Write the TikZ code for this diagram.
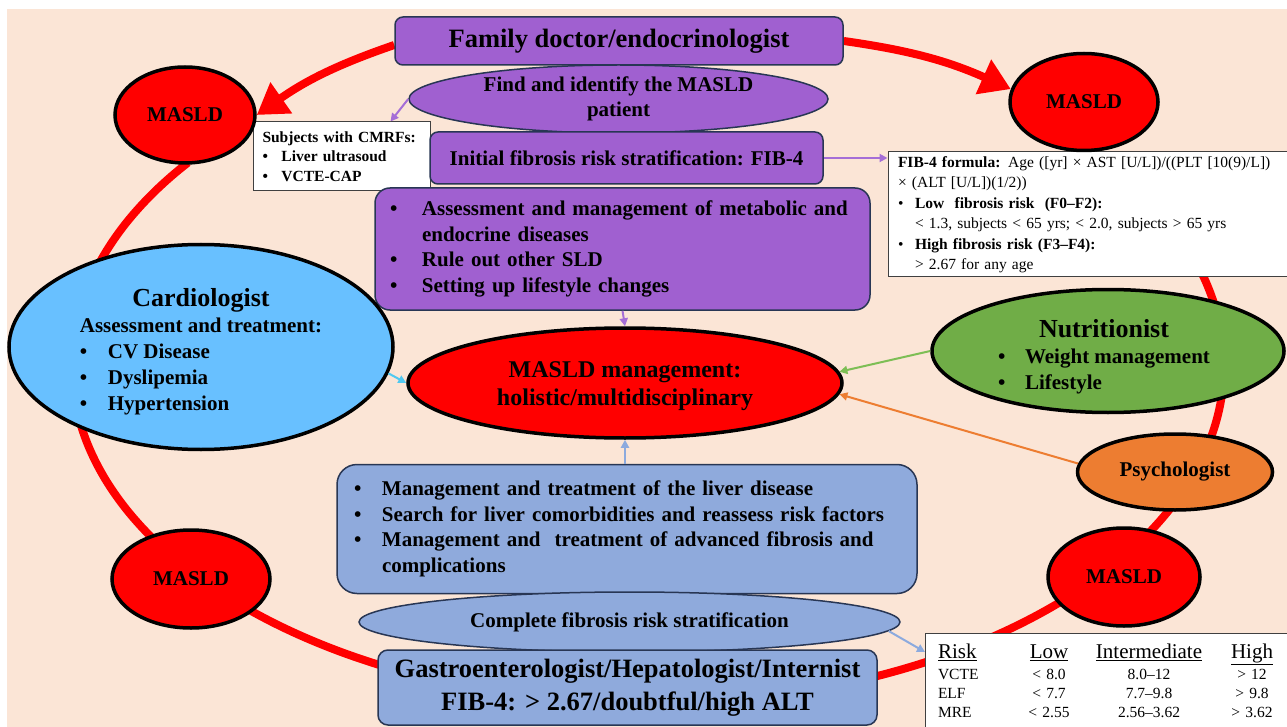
\documentclass[tikz,border=0pt]{standalone}
\usepackage{fontspec}
\setmainfont{Liberation Serif}
\usetikzlibrary{shapes.geometric,arrows.meta}
\pgfdeclarelayer{back}
\pgfsetlayers{back,main}
\definecolor{bgc}{RGB}{251,229,214}
\definecolor{ringred}{RGB}{255,0,0}
\definecolor{purp}{RGB}{160,96,208}
\definecolor{navy}{RGB}{40,54,84}
\definecolor{bluef}{RGB}{143,170,220}
\definecolor{cardc}{RGB}{104,192,255}
\definecolor{nutc}{RGB}{112,173,71}
\definecolor{psyc}{RGB}{237,125,49}
\definecolor{parr}{RGB}{165,110,215}
\definecolor{carr}{RGB}{80,200,240}
\definecolor{garr}{RGB}{125,190,85}
\definecolor{barr}{RGB}{140,170,222}
\newcommand\setfs[2]{\fontsize{#1}{#2}\selectfont}
\newcommand\mybul[1]{\makebox[#1][l]{\textbullet}}
\newcommand\lowerby[2]{\raisebox{-#1}[\height][\depth]{#2}}
\begin{document}
\begin{tikzpicture}[x=1pt,y=-1pt,
  ring/.style={draw=ringred, line width=8pt},
  bigtip/.style={-{Triangle[length=30pt,width=36pt]}},
  pbox/.style={draw=navy, line width=1.5pt, fill=purp, rounded corners=8pt, inner sep=0pt},
  bbox/.style={draw=navy, line width=1.5pt, fill=bluef, rounded corners=10pt, inner sep=0pt},
  pell/.style={ellipse, draw=navy, line width=1.5pt, fill=purp, inner sep=0pt},
  bell/.style={ellipse, draw=navy, line width=1.5pt, fill=bluef, inner sep=0pt},
  oval/.style={ellipse, draw=black, line width=3.5pt, inner sep=0pt},
  masld/.style={oval, fill=ringred, font=\bfseries\setfs{21}{24}},
  wbox/.style={draw=black!75, line width=1pt, fill=white, inner sep=0pt},
  conn/.style={line width=2pt, -{Triangle[length=8pt,width=8pt]}}
]
\useasboundingbox (0,0) rectangle (1287,727);

% nodes
\node[pbox, minimum width=448pt, minimum height=48pt, font=\bfseries\setfs{26.5}{30}] (fd) at (619,41) {Family doctor/endocrinologist};
\node[pell, minimum width=419pt, minimum height=68pt, align=center, font=\bfseries\setfs{21}{25}] (find) at (618.5,99) {Find and identify the MASLD\\patient};
\node[wbox, minimum width=177pt, minimum height=69pt, text width=158pt, align=left, font=\bfseries\setfs{15.5}{19.5}] (cmrf) at (341.5,156.5) {Subjects with CMRFs:\\\mybul{19pt}Liver ultrasoud\\\mybul{19pt}VCTE-CAP};
\node[pbox, minimum width=393pt, minimum height=52pt, font=\bfseries\setfs{21}{25}] (init) at (626.5,158) {Initial fibrosis risk stratification: FIB-4};
\node[pbox, rounded corners=15pt, minimum width=495pt, minimum height=122pt, text width=465pt, align=left, font=\bfseries\setfs{21}{25.5}] (meta) at (622.5,249) {\mybul{32pt}Assessment and management of metabolic and\\\hspace*{32pt}endocrine diseases\\\mybul{32pt}Rule out other SLD\\\mybul{32pt}Setting up lifestyle changes};
\node[wbox, minimum width=400pt, minimum height=125pt, text width=380pt, align=left, font=\setfs{15.5}{20.5}] (fib) at (1088,214.5) {\textbf{FIB-4 formula:} Age ([yr] × AST [U/L])/((PLT [10(9)/L])\\× (ALT [U/L])(1/2))\\\mybul{17pt}\textbf{Low\ \ fibrosis risk\ \ (F0–F2):}\\\hspace*{17pt}< 1.3, subjects < 65 yrs; < 2.0, subjects > 65 yrs\\\mybul{17pt}\textbf{High fibrosis risk (F3–F4):}\\\hspace*{17pt}> 2.67 for any age};

\node[masld, minimum width=140pt, minimum height=96pt] (m1) at (185,115) {MASLD};
\node[masld, minimum width=148pt, minimum height=97pt] (m2) at (1084,102) {MASLD};
\node[masld, minimum width=158pt, minimum height=98pt] (m3) at (191,579) {MASLD};
\node[masld, minimum width=152pt, minimum height=98pt] (m4) at (1124,577) {MASLD};

\node[oval, fill=ringred, minimum width=434pt, minimum height=110pt, font=\bfseries\setfs{24}{28}] (mgmt) at (625,383) {\lowerby{3pt}{\begin{tabular}{@{}c@{}}MASLD management:\\holistic/multidisciplinary\end{tabular}}};

\node[oval, fill=cardc, minimum width=384pt, minimum height=205pt, font=\bfseries\setfs{21}{26}] (cardio) at (201,347) {\lowerby{6pt}{\begin{tabular}{@{}l@{}}\multicolumn{1}{@{}c@{}}{\setfs{26}{28}Cardiologist}\\ Assessment and treatment:\\ \mybul{28pt}CV Disease\\ \mybul{28pt}Dyslipemia\\ \mybul{28pt}Hypertension\end{tabular}}};

\node[oval, fill=nutc, minimum width=352pt, minimum height=123pt, font=\bfseries\setfs{21}{26}] (nutri) at (1108,351) {\lowerby{7pt}{\begin{tabular}{@{}l@{}}\multicolumn{1}{@{}c@{}}{\setfs{26}{29}Nutritionist\hspace*{8pt}}\\ \mybul{27pt}Weight management\hspace*{8pt}\\ \mybul{27pt}Lifestyle\end{tabular}}};

\node[oval, fill=psyc, minimum width=195pt, minimum height=76pt, font=\bfseries\setfs{21}{24}] (psych) at (1175,472) {Psychologist};

\node[bbox, rounded corners=20pt, minimum width=580pt, minimum height=129pt, text width=546pt, align=left, font=\bfseries\setfs{21}{25.5}] (liver) at (627,529) {\mybul{28pt}Management and treatment of the liver disease\\\mybul{28pt}Search for liver comorbidities and reassess risk factors\\\mybul{28pt}Management and\ \ treatment of advanced fibrosis and\\\hspace*{28pt}complications};

\node[bell, minimum width=541pt, minimum height=60pt, font=\bfseries\setfs{21}{24}] (comp) at (629.5,622) {Complete fibrosis risk stratification};

\node[bbox, minimum width=499pt, minimum height=75pt, align=center, font=\bfseries\setfs{26.5}{33}] (gastro) at (627.5,687.5) {Gastroenterologist/Hepatologist/Internist\\FIB-4: > 2.67/doubtful/high ALT};

\node[wbox, anchor=north west, minimum width=363pt, minimum height=95pt, text width=356pt, align=left, font=\setfs{15.5}{19}] (tab) at (925,633) {{\setfs{21}{22}\hspace*{9pt}\makebox[80pt][l]{\underline{Risk}}\makebox[62pt]{\underline{Low}}\makebox[138pt]{\underline{Intermediate}}\makebox[68pt]{\underline{High}}}\\[2pt]
\hspace*{9pt}\makebox[80pt][l]{VCTE}\makebox[62pt]{< 8.0}\makebox[138pt]{8.0–12}\makebox[68pt]{> 12}\\
\hspace*{9pt}\makebox[80pt][l]{ELF}\makebox[62pt]{< 7.7}\makebox[138pt]{7.7–9.8}\makebox[68pt]{> 9.8}\\
\hspace*{9pt}\makebox[80pt][l]{MRE}\makebox[62pt]{< 2.55}\makebox[138pt]{2.56–3.62}\makebox[68pt]{> 3.62}};

% background and ring
\begin{pgfonlayer}{back}
\fill[bgc] (7,9) rectangle (1287,727);
\draw[ring] plot[domain=-40:217, samples=150, smooth] ({648+576*cos(\x)},{366+338*sin(\x)});
\draw[ring, bigtip] ([yshift=-4pt]fd.west) to[bend right=8] (m1.east);
\draw[ring, bigtip] (fd.east) to[bend left=8] (m2.170);
\end{pgfonlayer}

% connectors
\draw[conn, parr] (find.west) -- ([xshift=-40pt]cmrf.north east);
\draw[conn, parr] (init.east) -- (init.east -| fib.west);
\draw[conn, parr] (meta.south) -- (mgmt.north);
\draw[conn, carr] (cardio.-8) -- (mgmt.west);
\draw[conn, garr] (nutri.west) -- (mgmt.3);
\draw[conn, psyc] (psych.175) -- (mgmt.-3);
\draw[conn, barr] (mgmt.south |- liver.north) -- (mgmt.south);
\draw[conn, barr] (comp.-2) -- ([yshift=-19pt]tab.north west);
\end{tikzpicture}
\end{document}
